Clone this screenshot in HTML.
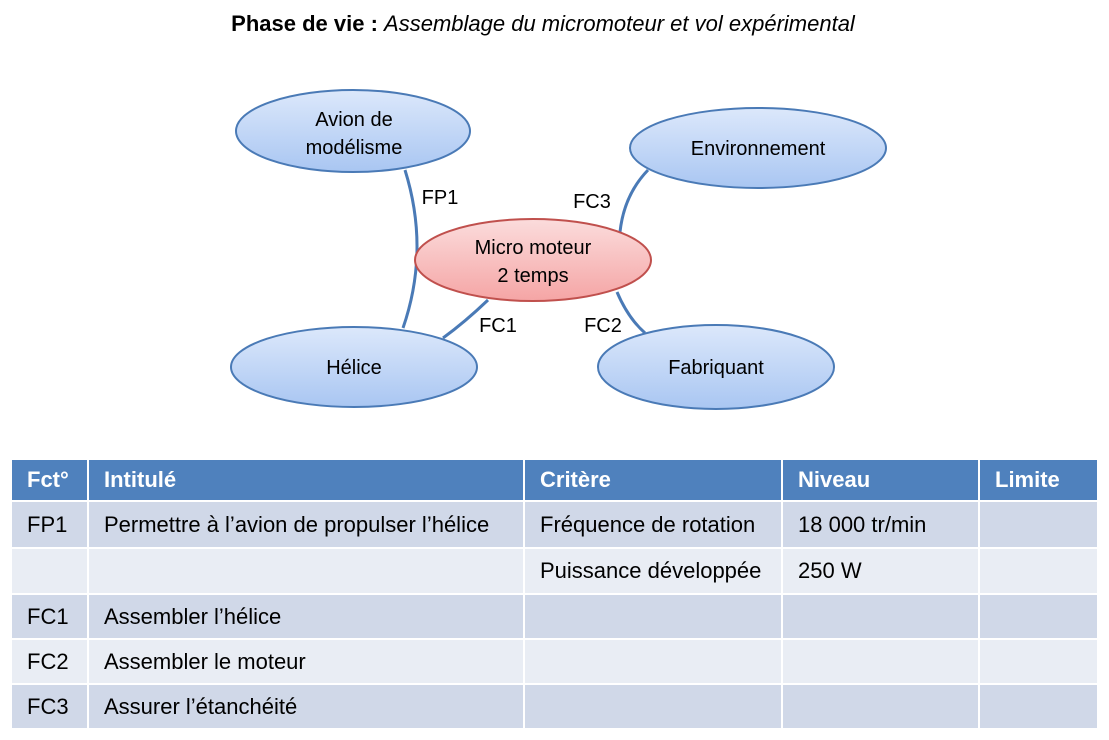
<!DOCTYPE html>
<html><head><meta charset="utf-8"><style>
body{margin:0;width:1109px;height:740px;background:#fff;position:relative;font-family:"Liberation Sans",sans-serif;overflow:hidden}
.t{position:absolute;color:#000;white-space:nowrap}
.c{position:absolute;box-sizing:border-box;font-size:22px;padding-left:15px;line-height:1;display:flex;align-items:center;white-space:nowrap}
</style></head><body>
<div class="t" style="left:0;width:1086px;text-align:center;top:11px;font-size:22px"><b>Phase de vie :</b> <i>Assemblage du micromoteur et vol expérimental</i></div>
<svg width="1109" height="440" style="position:absolute;left:0;top:0">
<defs>
<linearGradient id="b" x1="0" y1="0" x2="0" y2="1"><stop offset="0" stop-color="#dce8fb"/><stop offset="1" stop-color="#a9c6f2"/></linearGradient>
<linearGradient id="r" x1="0" y1="0" x2="0" y2="1"><stop offset="0" stop-color="#fbdcdc"/><stop offset="1" stop-color="#f5a5a5"/></linearGradient>
</defs>
<g fill="none" stroke="#4a7ab6" stroke-width="3">
<path d="M405 170 Q430 250 403 328"/>
<path d="M488 300 Q465 322 443 338"/>
<path d="M648 170 Q624 195 620 232"/>
<path d="M617 292 Q628 318 645 333"/>
</g>
<g stroke="#4a7ab6" stroke-width="2" fill="url(#b)">
<ellipse cx="353" cy="131" rx="117" ry="41"/>
<ellipse cx="758" cy="148" rx="128" ry="40"/>
<ellipse cx="354" cy="367" rx="123" ry="40"/>
<ellipse cx="716" cy="367" rx="118" ry="42"/>
</g>
<ellipse cx="533" cy="260" rx="118" ry="41" stroke="#c0504d" stroke-width="2" fill="url(#r)"/>
<g font-family="Liberation Sans" font-size="20" text-anchor="middle" fill="#000">
<text x="354" y="126">Avion de</text><text x="354" y="154">modélisme</text>
<text x="758" y="155">Environnement</text>
<text x="354" y="374">Hélice</text>
<text x="716" y="374">Fabriquant</text>
<text x="533" y="254">Micro moteur</text><text x="533" y="282">2 temps</text>
<text x="440" y="204">FP1</text><text x="592" y="208">FC3</text>
<text x="498" y="332">FC1</text><text x="603" y="332">FC2</text>
</g>
</svg>
<div style="position:absolute;left:12px;top:460px">
<div class="c" style="left:0;top:0;width:75px;height:40px;background:#4f81bd;color:#fff;font-weight:bold">Fct°</div>
<div class="c" style="left:77px;top:0;width:434px;height:40px;background:#4f81bd;color:#fff;font-weight:bold">Intitulé</div>
<div class="c" style="left:513px;top:0;width:256px;height:40px;background:#4f81bd;color:#fff;font-weight:bold">Critère</div>
<div class="c" style="left:771px;top:0;width:195px;height:40px;background:#4f81bd;color:#fff;font-weight:bold">Niveau</div>
<div class="c" style="left:968px;top:0;width:117px;height:40px;background:#4f81bd;color:#fff;font-weight:bold">Limite</div>

<div class="c" style="left:0;top:42px;width:75px;height:45px;background:#d0d8e8">FP1</div>
<div class="c" style="left:77px;top:42px;width:434px;height:45px;background:#d0d8e8">Permettre à l’avion de propulser l’hélice</div>
<div class="c" style="left:513px;top:42px;width:256px;height:45px;background:#d0d8e8">Fréquence de rotation</div>
<div class="c" style="left:771px;top:42px;width:195px;height:45px;background:#d0d8e8">18 000 tr/min</div>
<div class="c" style="left:968px;top:42px;width:117px;height:45px;background:#d0d8e8"></div>

<div class="c" style="left:0;top:89px;width:75px;height:44px;background:#e9edf4"></div>
<div class="c" style="left:77px;top:89px;width:434px;height:44px;background:#e9edf4"></div>
<div class="c" style="left:513px;top:89px;width:256px;height:44px;background:#e9edf4">Puissance développée</div>
<div class="c" style="left:771px;top:89px;width:195px;height:44px;background:#e9edf4">250 W</div>
<div class="c" style="left:968px;top:89px;width:117px;height:44px;background:#e9edf4"></div>

<div class="c" style="left:0;top:135px;width:75px;height:43px;background:#d0d8e8">FC1</div>
<div class="c" style="left:77px;top:135px;width:434px;height:43px;background:#d0d8e8">Assembler l’hélice</div>
<div class="c" style="left:513px;top:135px;width:256px;height:43px;background:#d0d8e8"></div>
<div class="c" style="left:771px;top:135px;width:195px;height:43px;background:#d0d8e8"></div>
<div class="c" style="left:968px;top:135px;width:117px;height:43px;background:#d0d8e8"></div>

<div class="c" style="left:0;top:180px;width:75px;height:43px;background:#e9edf4">FC2</div>
<div class="c" style="left:77px;top:180px;width:434px;height:43px;background:#e9edf4">Assembler le moteur</div>
<div class="c" style="left:513px;top:180px;width:256px;height:43px;background:#e9edf4"></div>
<div class="c" style="left:771px;top:180px;width:195px;height:43px;background:#e9edf4"></div>
<div class="c" style="left:968px;top:180px;width:117px;height:43px;background:#e9edf4"></div>

<div class="c" style="left:0;top:225px;width:75px;height:43px;background:#d0d8e8">FC3</div>
<div class="c" style="left:77px;top:225px;width:434px;height:43px;background:#d0d8e8">Assurer l’étanchéité</div>
<div class="c" style="left:513px;top:225px;width:256px;height:43px;background:#d0d8e8"></div>
<div class="c" style="left:771px;top:225px;width:195px;height:43px;background:#d0d8e8"></div>
<div class="c" style="left:968px;top:225px;width:117px;height:43px;background:#d0d8e8"></div>
</div>
</body></html>
